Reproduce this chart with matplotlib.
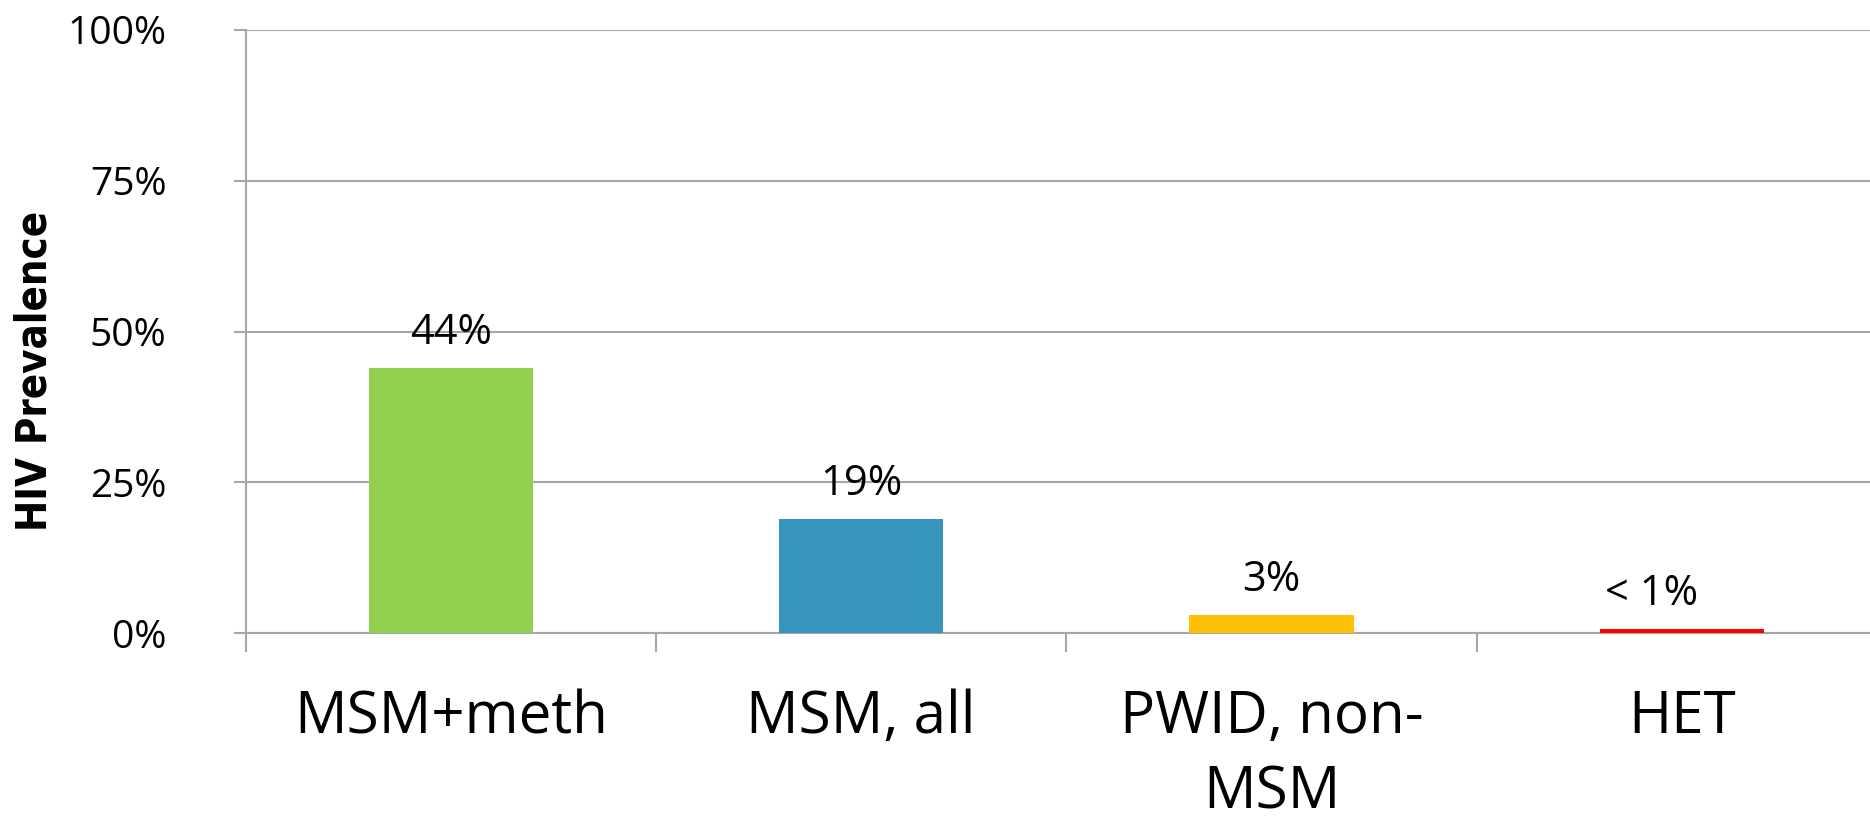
import matplotlib
matplotlib.use("Agg")
import matplotlib.pyplot as plt
from matplotlib.ticker import FixedLocator, FuncFormatter

# Data
categories = ["MSM+meth", "MSM, all", "PWID, non-\nMSM", "HET"]
prevalence = [44, 19, 3, 0.7]
value_labels = ["44%", "19%", "3%", "< 1%"]
bar_colors = ["#92D050", "#3794BC", "#FFC000", "#FF0000"]
y_ticks = [0, 25, 50, 75, 100]

W, H = 1870, 816
fig = plt.figure(figsize=(W / 100, H / 100), dpi=100)
fig.patch.set_facecolor("white")

# axes region in pixels (the category band runs past the right edge)
left_px, right_px = 245.7, 245.7 + 4 * 410.3
top_px, bottom_px = 29.8, 633.3
ax = fig.add_axes([left_px / W, 1 - bottom_px / H,
                   (right_px - left_px) / W, (bottom_px - top_px) / H])

grid_color = "#A6A6A6"
x = list(range(len(categories)))
ax.bar(x, prevalence, width=0.4, color=bar_colors, zorder=3)

ax.set_xlim(-0.5, len(categories) - 0.5)
ax.set_ylim(0, 100)

# y axis: percentage ticks with gridlines
ax.yaxis.set_major_locator(FixedLocator(y_ticks))
ax.yaxis.set_major_formatter(FuncFormatter(lambda v, p: f"{int(v)}%"))
ax.grid(axis="y", color=grid_color, linewidth=1.5, zorder=0)
ax.tick_params(axis="y", direction="out", length=9, width=1.5, color=grid_color,
               pad=48, labelsize=28, labelcolor="black")

# x axis: ticks at the category boundaries, labels at the centres
ax.xaxis.set_major_locator(FixedLocator([i - 0.5 for i in x]))
ax.xaxis.set_major_formatter(FuncFormatter(lambda v, p: ""))
ax.xaxis.set_minor_locator(FixedLocator(x))
ax.xaxis.set_minor_formatter(FuncFormatter(lambda v, p: categories[int(round(v))]))
ax.tick_params(axis="x", which="major", direction="out", length=14, width=1.5,
               color=grid_color)
ax.tick_params(axis="x", which="minor", length=0, pad=40, labelsize=42)
for lbl in ax.get_xticklabels(minor=True):
    lbl.set_family("Open Sans")
    lbl.set_linespacing(1.38)
for lbl in ax.get_yticklabels():
    lbl.set_family("Open Sans")

for side in ("top", "right"):
    ax.spines[side].set_visible(False)
for side in ("left", "bottom"):
    ax.spines[side].set_color(grid_color)
    ax.spines[side].set_linewidth(1.5)

# value labels above bars
label_dx = [0, 0, 0, -22]
for xi, v, txt, dx in zip(x, prevalence, value_labels, label_dx):
    ax.annotate(txt, (xi, v), xytext=(dx, 10), textcoords="offset points",
                ha="center", va="bottom", fontsize=30,
                family="Open Sans", color="black")

fig.text(35 / W, 1 - 371 / H, "HIV Prevalence", rotation=90, ha="center", va="center",
         fontsize=30, fontweight="bold", fontstretch="condensed",
         family=["DejaVu Sans"])

fig.savefig("out.png", dpi=100, facecolor="white")
